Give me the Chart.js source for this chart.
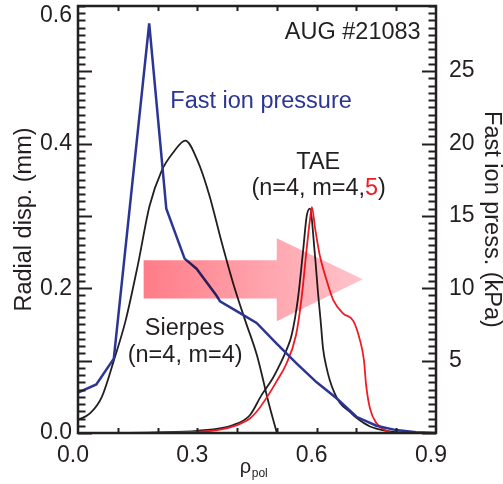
<!DOCTYPE html>
<html><head><meta charset="utf-8">
<script src="https://cdn.jsdelivr.net/npm/chart.js@4.4.0/dist/chart.umd.min.js"></script>
<style>html,body{margin:0;padding:0;background:#fff;overflow:hidden}#wrap{width:503px;height:484px}</style>
</head><body><div id="wrap"><canvas id="c" width="503" height="484"></canvas></div>
<script>
const FONT = '"Liberation Sans", Arial, Helvetica, sans-serif';
const INK = '#231f20';

// Fast ion pressure (kPa, right axis)
const pressX = [0, 0.046, 0.090, 0.179, 0.222, 0.268, 0.298, 0.348, 0.357, 0.40, 0.449, 0.50, 0.55, 0.60, 0.65, 0.70, 0.75, 0.80, 0.85, 0.90];
const pressY = [2.79, 3.35, 5.14, 28.3, 15.5, 12.05, 11.35, 9.5, 9.1, 8.4, 7.6, 6.15, 4.8, 3.5, 2.4, 1.12, 0.5, 0.2, 0.05, 0];

// Sierpes radial displacement (mm)
const sierpesX = [0, 0.03, 0.06, 0.09, 0.12, 0.15, 0.18, 0.21, 0.24, 0.27, 0.30, 0.33, 0.36, 0.39, 0.42, 0.45, 0.48, 0.50];
const sierpesY = [0.018, 0.027, 0.050, 0.100, 0.156, 0.231, 0.314, 0.362, 0.388, 0.404, 0.377, 0.329, 0.266, 0.207, 0.156, 0.107, 0.040, 0.0];

// TAE m=4 (black) radial displacement (mm)
const taeM4X = [0, 0.2, 0.3, 0.39, 0.432, 0.461, 0.49, 0.507, 0.525, 0.537, 0.553, 0.566, 0.575, 0.583, 0.595, 0.604, 0.610, 0.616, 0.625, 0.633, 0.645, 0.658, 0.684, 0.70, 0.734, 0.776, 0.82, 0.9];
const taeM4Y = [0, 0.001, 0.003, 0.011, 0.0245, 0.052, 0.076, 0.094, 0.116, 0.135, 0.186, 0.2525, 0.300, 0.310, 0.250, 0.190, 0.155, 0.117, 0.090, 0.073, 0.055, 0.042, 0.029, 0.021, 0.009, 0.003, 0.0005, 0];

// TAE m=5 (red) radial displacement (mm)
const taeM5X = [0, 0.25, 0.35, 0.40, 0.432, 0.45, 0.478, 0.50, 0.522, 0.548, 0.562, 0.5745, 0.583, 0.588, 0.596, 0.608, 0.625, 0.6415, 0.667, 0.692, 0.709, 0.719, 0.724, 0.734, 0.751, 0.776, 0.79];
const taeM5Y = [0, 0.001, 0.004, 0.011, 0.020, 0.030, 0.052, 0.072, 0.0936, 0.135, 0.186, 0.2525, 0.294, 0.312, 0.283, 0.245, 0.211, 0.184, 0.165, 0.155, 0.128, 0.100, 0.068, 0.034, 0.013, 0.003, 0];

// Tick labels
const xTickValues = [0, 0.3, 0.6, 0.9];
const xTickLabels = ['0.0', '0.3', '0.6', '0.9'];
const leftTickValues = [0, 0.2, 0.4, 0.576];
const leftTickLabels = ['0.0', '0.2', '0.4', '0.6'];
const rightTickValues = [5, 10, 15, 20, 25];
const rightTickLabels = ['5', '10', '15', '20', '25'];

// Annotations (data coords on x / left axis)
const notes = [
  {parts: [['AUG #21083', INK]], x: 0.8615, y: 0.545, align: 'right'},
  {parts: [['Fast ion pressure', '#2b3593']], x: 0.232, y: 0.449, align: 'left'},
  {parts: [['TAE', INK]], x: 0.604, y: 0.3654, align: 'center'},
  {parts: [['(n=4, m=4,', INK], ['5', '#ee1c25'], [')', INK]], x: 0.605, y: 0.3285, align: 'center'},
  {parts: [['Sierpes', INK]], x: 0.268, y: 0.136, align: 'center'},
  {parts: [['(n=4, m=4)', INK]], x: 0.2694, y: 0.0977, align: 'center'}
];

// Arrow (data coords)
const arrowX = {start: 0.165, base: 0.4997, tip: 0.716};
const arrowY = {shaftTop: 0.2387, shaftBottom: 0.186, headTop: 0.269, headBottom: 0.1544, tip: 0.2124};

const pts = (xs, ys) => xs.map((x, i) => ({x, y: ys[i]}));
const noPad = s => { s.paddingTop = 0; s.paddingBottom = 0; s.paddingLeft = 0; s.paddingRight = 0; };

const arrowPlugin = {
  id: 'arrow',
  afterDatasetsDraw(chart) {
    const {ctx, scales: {x, y}} = chart;
    const X = v => x.getPixelForValue(v), Y = v => y.getPixelForValue(v);
    ctx.save();
    ctx.globalCompositeOperation = 'multiply';
    const g = ctx.createLinearGradient(X(arrowX.start), 0, X(arrowX.tip), 0);
    g.addColorStop(0, 'rgb(255,124,136)');
    g.addColorStop(1, 'rgb(255,196,203)');
    ctx.fillStyle = g;
    ctx.beginPath();
    ctx.moveTo(X(arrowX.start), Y(arrowY.shaftTop));
    ctx.lineTo(X(arrowX.base), Y(arrowY.shaftTop));
    ctx.lineTo(X(arrowX.base), Y(arrowY.headTop));
    ctx.lineTo(X(arrowX.tip), Y(arrowY.tip));
    ctx.lineTo(X(arrowX.base), Y(arrowY.headBottom));
    ctx.lineTo(X(arrowX.base), Y(arrowY.shaftBottom));
    ctx.lineTo(X(arrowX.start), Y(arrowY.shaftBottom));
    ctx.closePath();
    ctx.fill();
    ctx.restore();
  }
};

const framePlugin = {
  id: 'frame',
  afterDraw(chart) {
    const {ctx, chartArea: {left, right, top, bottom}, scales: {x, y}} = chart;
    ctx.save();
    ctx.strokeStyle = INK;
    ctx.lineWidth = 2;
    ctx.beginPath();
    for (let i = 0; i <= 59; i++) {
      const py = Math.round(y.getPixelForValue(i / 100)) + 0.5;
      const len = (i % 10 === 0) ? 14 : 7.5;
      ctx.moveTo(left, py); ctx.lineTo(left + len, py);
      ctx.moveTo(right, py); ctx.lineTo(right - len, py);
    }
    for (let i = 1; i <= 8; i++) {
      const px = Math.round(x.getPixelForValue(i / 10)) + 0.5;
      ctx.moveTo(px, bottom); ctx.lineTo(px, bottom - 5);
      ctx.moveTo(px, top); ctx.lineTo(px, top + 5);
    }
    ctx.stroke();
    ctx.lineWidth = 2.5;
    ctx.strokeRect(left, top, right - left, bottom - top);

    ctx.font = '23.5px ' + FONT;
    ctx.textBaseline = 'alphabetic';
    for (const n of notes) {
      const total = n.parts.reduce((s, p) => s + ctx.measureText(p[0]).width, 0);
      let px = x.getPixelForValue(n.x);
      if (n.align === 'center') px -= total / 2;
      else if (n.align === 'right') px -= total;
      const py = y.getPixelForValue(n.y);
      ctx.textAlign = 'left';
      for (const [t, c] of n.parts) {
        ctx.fillStyle = c;
        ctx.fillText(t, px, py);
        px += ctx.measureText(t).width;
      }
    }
    ctx.fillStyle = INK;
    ctx.textAlign = 'left';
    ctx.font = '20px ' + FONT;
    ctx.fillText('ρ', x.getPixelForValue(0.4066), bottom + 40);
    ctx.font = '12px ' + FONT;
    ctx.fillText('pol', x.getPixelForValue(0.4368), bottom + 44);
    ctx.restore();
  }
};

new Chart(document.getElementById('c'), {
  type: 'line',
  data: {
    datasets: [
      {label: 'Fast ion pressure', data: pts(pressX, pressY), yAxisID: 'y2', borderColor: '#2b3593', borderWidth: 2.5, pointRadius: 0, tension: 0, order: 0},
      {label: 'TAE m=5', data: pts(taeM5X, taeM5Y), yAxisID: 'y', borderColor: '#ee1c25', borderWidth: 1.8, pointRadius: 0, cubicInterpolationMode: 'monotone', order: 1},
      {label: 'Sierpes', data: pts(sierpesX, sierpesY), yAxisID: 'y', borderColor: INK, borderWidth: 1.8, pointRadius: 0, cubicInterpolationMode: 'monotone', order: 2},
      {label: 'TAE m=4', data: pts(taeM4X, taeM4Y), yAxisID: 'y', borderColor: INK, borderWidth: 1.8, pointRadius: 0, cubicInterpolationMode: 'monotone', order: 3}
    ]
  },
  options: {
    responsive: false,
    animation: false,
    devicePixelRatio: 1,
    layout: {padding: {top: 6, left: 0, right: 0, bottom: 0}},
    plugins: {legend: {display: false}, tooltip: {enabled: false}},
    scales: {
      x: {
        type: 'linear', min: 0, max: 0.9,
        afterFit(s) { s.height = 51; noPad(s); },
        afterBuildTicks(s) { s.ticks = xTickValues.map(v => ({value: v})); },
        ticks: {callback: (v, i) => xTickLabels[i], font: {family: FONT, size: 23}, color: INK, padding: 9, labelOffset: -5, maxRotation: 0, autoSkip: false},
        grid: {display: false, drawTicks: false},
        border: {display: false}
      },
      y: {
        type: 'linear', position: 'left', min: 0, max: 0.59,
        afterFit(s) { s.width = 78; noPad(s); },
        afterBuildTicks(s) { s.ticks = leftTickValues.map(v => ({value: v})); },
        ticks: {callback: (v, i) => leftTickLabels[i], font: {family: FONT, size: 23}, color: INK, padding: 6, autoSkip: false},
        grid: {display: false, drawTicks: false},
        border: {display: false},
        title: {display: true, text: 'Radial disp. (mm)', font: {family: FONT, size: 23.5, lineHeight: 1}, color: INK, padding: {top: 13, bottom: 0}}
      },
      y2: {
        type: 'linear', position: 'right', min: 0, max: 29.5,
        afterFit(s) { s.width = 67; noPad(s); },
        afterBuildTicks(s) { s.ticks = rightTickValues.map(v => ({value: v})); },
        ticks: {callback: (v, i) => rightTickLabels[i], font: {family: FONT, size: 23}, color: INK, padding: 13, autoSkip: false},
        grid: {display: false, drawTicks: false},
        border: {display: false},
        title: {display: true, text: 'Fast ion press. (kPa)', font: {family: FONT, size: 23.5, lineHeight: 1}, color: INK, padding: {top: 0, bottom: 0}}
      }
    }
  },
  plugins: [arrowPlugin, framePlugin]
});
</script>
</body></html>
